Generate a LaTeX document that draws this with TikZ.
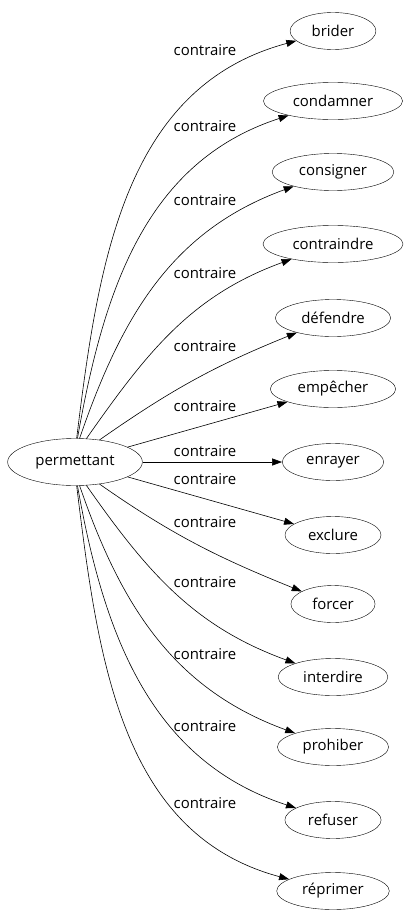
\documentclass[tikz,border=0pt]{standalone}
\usepackage{fontspec}
\setmainfont{Open Sans}
\usetikzlibrary{shapes.geometric,arrows.meta}
\begin{document}
\begin{tikzpicture}[x=1bp,y=-1bp,
  word/.style={ellipse,draw,inner xsep=9bp,inner ysep=2bp,minimum height=37bp,font=\fontsize{15}{17}\selectfont},
  lab/.style={font=\fontsize{15}{17}\selectfont,inner sep=0pt},
  rel/.style={-{Triangle[length=10bp,width=7bp]},line width=0.6bp}]
\useasboundingbox (0,0) rectangle (411,923);
\node[word,minimum height=47bp,inner xsep=8bp] (p) at (75,462) {permettant};
\node[word] (n1) at (333,31) {brider};
\node[word] (n2) at (333,101) {condamner};
\node[word] (n3) at (333,172) {consigner};
\node[word] (n4) at (333,244) {contraindre};
\node[word] (n5) at (333,318) {défendre};
\node[word] (n6) at (333,389) {empêcher};
\node[word] (n7) at (333,462) {enrayer};
\node[word] (n8) at (333,535) {exclure};
\node[word] (n9) at (333,604) {forcer};
\node[word] (n10) at (333,677) {interdire};
\node[word] (n11) at (333,747) {prohiber};
\node[word] (n12) at (333,820) {refuser};
\node[word] (n13) at (333,891) {réprimer};
\draw[rel] (p.86) to[out=83,in=195] (n1);
\draw[rel] (p.84) to[out=80,in=198] (n2);
\draw[rel] (p.79) to[out=71,in=200] (n3);
\draw[rel] (p.64) to[out=55,in=200] (n4);
\draw[rel] (p.42) to[out=35,in=202] (n5);
\draw[rel] (p) -- (n6);
\draw[rel] (p) -- (n7);
\draw[rel] (p) -- (n8);
\draw[rel] (p.-42) to[out=-35,in=158] (n9);
\draw[rel] (p.-64) to[out=-55,in=160] (n10);
\draw[rel] (p.-79) to[out=-71,in=160] (n11);
\draw[rel] (p.-84) to[out=-80,in=162] (n12);
\draw[rel] (p.-86) to[out=-83,in=165] (n13);
\node[lab] (l1) at (205,50) {contraire};
\node[lab] (l2) at (205,126) {contraire};
\node[lab] (l3) at (205,200) {contraire};
\node[lab] (l4) at (205,273) {contraire};
\node[lab] (l5) at (205,346) {contraire};
\node[lab] (l6) at (205,406) {contraire};
\node[lab] (l7) at (205,451) {contraire};
\node[lab] (l8) at (205,479) {contraire};
\node[lab] (l9) at (205,522) {contraire};
\node[lab] (l10) at (205,582) {contraire};
\node[lab] (l11) at (205,654) {contraire};
\node[lab] (l12) at (205,726) {contraire};
\node[lab] (l13) at (205,803) {contraire};
\end{tikzpicture}
\end{document}
